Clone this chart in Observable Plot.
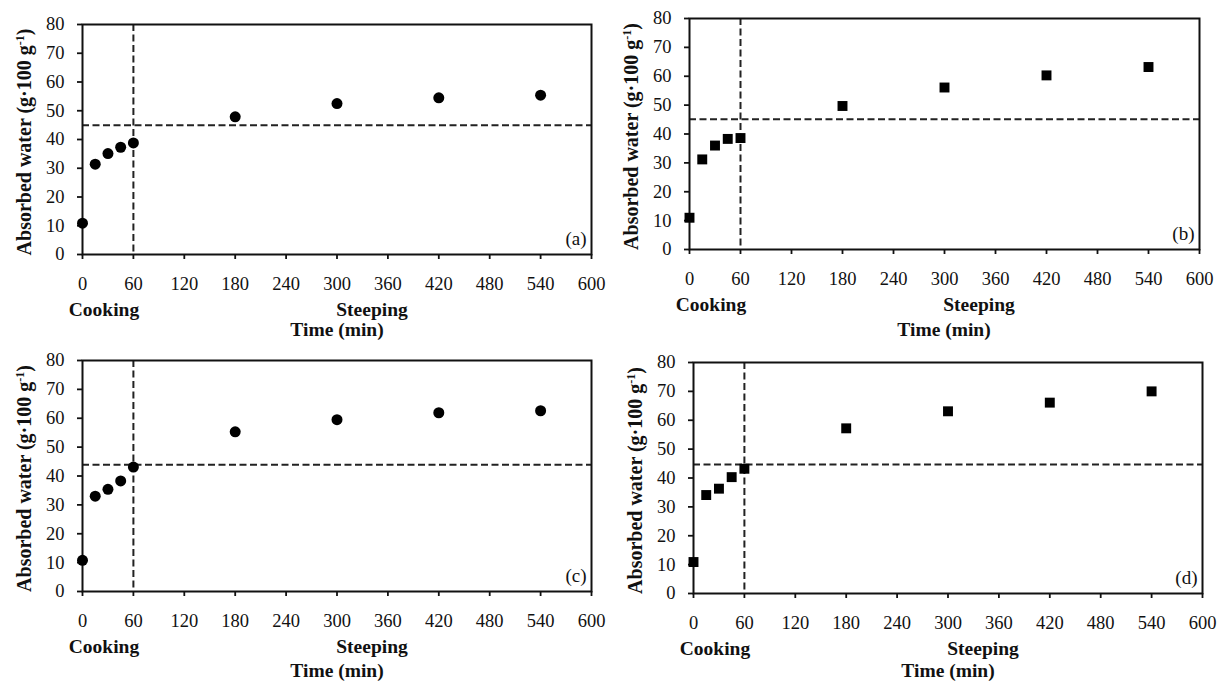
<!DOCTYPE html>
<html><head><meta charset="utf-8">
<script src="https://cdn.jsdelivr.net/npm/d3@7"></script>
<script src="https://cdn.jsdelivr.net/npm/@observablehq/plot@0.6"></script>
<style>
body{margin:0;background:#fff;}
#wrap{position:relative;width:1218px;height:682px;overflow:hidden;font-family:"Liberation Serif","Times New Roman",serif;background:#fff;}
.panel{position:absolute;}
.panel svg{overflow:visible;}
</style></head><body><div id="wrap"></div>
<script>
// ---- data ----
const times = [0, 15, 30, 45, 60, 180, 300, 420, 540];
const waterA = [10.9, 31.4, 35.1, 37.3, 38.8, 47.9, 52.5, 54.5, 55.4];
const waterB = [11.0, 31.2, 36.0, 38.3, 38.6, 49.7, 56.1, 60.3, 63.2];
const waterC = [10.8, 33.0, 35.4, 38.3, 43.1, 55.3, 59.5, 61.9, 62.6];
const waterD = [10.9, 34.1, 36.3, 40.3, 43.2, 57.2, 63.1, 66.1, 70.0];
const thresholds = [45.0, 45.1, 43.9, 44.7];
const cookingEnd = [60];
const xTicks = [0, 60, 120, 180, 240, 300, 360, 420, 480, 540, 600];
const yTicks = [0, 10, 20, 30, 40, 50, 60, 70, 80];
const panelLabels = ["(a)", "(b)", "(c)", "(d)"];
const phaseLabels = ["Cooking", "Steeping"];
const xTitle = "Time (min)";
const yTitle = ["Absorbed water (g\u00b7100 g", "-1", ")"];
const series = [waterA, waterB, waterC, waterD];
const symbols = ["circle", "square", "circle", "square"];

// ---- layout ----
const layout = [
  {left: 0,   top: 0,   w: 609, h: 341, ml: 82, mr: 18, mt: 24, mb: 87},
  {left: 609, top: 0,   w: 609, h: 341, ml: 80, mr: 19, mt: 18, mb: 92},
  {left: 0,   top: 341, w: 609, h: 341, ml: 82, mr: 18, mt: 19, mb: 91},
  {left: 609, top: 341, w: 609, h: 341, ml: 84, mr: 16, mt: 21, mb: 89}
];
const FONT = '"Liberation Serif","Times New Roman",serif';
const ink = "#111";

const wrap = document.getElementById("wrap");
layout.forEach((L, i) => {
  const data = times.map((t, j) => ({t, w: series[i][j]}));
  const svg = Plot.plot({
    width: L.w, height: L.h,
    marginLeft: L.ml, marginRight: L.mr, marginTop: L.mt, marginBottom: L.mb,
    style: {fontFamily: FONT, fontSize: "18.5px", color: ink, background: "transparent", overflow: "visible"},
    x: {domain: [0, 600]},
    y: {domain: [0, 80]},
    marks: [
      Plot.ruleX(cookingEnd, {stroke: "#222", strokeWidth: 2, strokeDasharray: "7,3.5"}),
      Plot.ruleY([thresholds[i]], {stroke: "#222", strokeWidth: 2, strokeDasharray: "7,3.5"}),
      Plot.frame({stroke: ink, strokeWidth: 2}),
      Plot.axisX({ticks: xTicks, tickSize: 5, tickPadding: 17, tickFormat: d => String(d), label: null, strokeWidth: 1.8}),
      Plot.axisY({ticks: yTicks, tickSize: 5, tickPadding: 13, tickFormat: d => String(d), label: null, strokeWidth: 1.8}),
      Plot.dot(data, {x: "t", y: "w", r: symbols[i] === "circle" ? 5.5 : 5.6, symbol: symbols[i], fill: "#000", stroke: "none"}),
      Plot.text([panelLabels[i]], {frameAnchor: "bottom-right", dx: -5, dy: -10, textAnchor: "end", lineAnchor: "bottom", fontSize: 19, fill: ink})
    ]
  });
  const div = document.createElement("div");
  div.className = "panel";
  div.style.left = L.left + "px";
  div.style.top = L.top + "px";
  div.appendChild(svg);
  wrap.appendChild(div);

  const g = d3.select(svg);
  const bottom = L.h - L.mb;
  const cy = L.mt + (bottom - L.mt) / 2 + 3;
  const cx = L.ml - 58;
  const t = g.append("text")
    .attr("transform", `translate(${cx + 6.5},${cy}) rotate(-90)`)
    .attr("text-anchor", "middle").attr("font-weight", "bold")
    .attr("font-size", 20).attr("font-family", FONT).attr("fill", ink);
  t.append("tspan").text(yTitle[0]);
  t.append("tspan").attr("baseline-shift", "super").attr("font-size", "0.6em").text(yTitle[1]);
  t.append("tspan").text(yTitle[2]);

  const lab = (txt, x, y) => g.append("text").attr("x", x).attr("y", y)
    .attr("text-anchor", "middle").attr("font-weight", "bold").attr("font-size", 19.5)
    .attr("font-family", FONT).attr("fill", ink).text(txt);
  lab(phaseLabels[0], L.ml + 22, bottom + 62);
  lab(phaseLabels[1], L.ml + 290, bottom + 62);
  lab(xTitle, L.ml + 255, Math.min(bottom + 87, L.h - 5));
});
</script>
</body></html>
